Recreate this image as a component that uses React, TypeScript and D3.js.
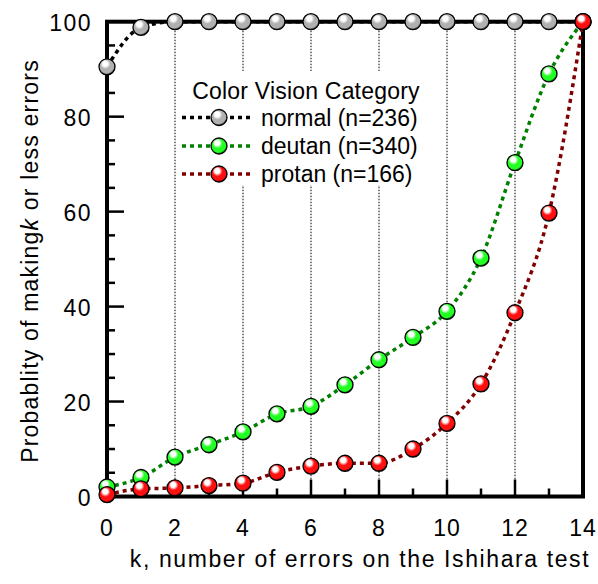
import React from "react";
import * as d3 from "d3";

const ks = [0, 1, 2, 3, 4, 5, 6, 7, 8, 9, 10, 11, 12, 13, 14];
const normalVals = [90.5, 98.8, 100, 100, 100, 100, 100, 100, 100, 100, 100, 100, 100, 100, 100];
const deutanVals = [2.0, 4.0, 8.3, 10.9, 13.6, 17.4, 19.0, 23.5, 28.8, 33.5, 39.0, 50.2, 70.3, 89.0, 100];
const protanVals = [0.4, 1.6, 1.8, 2.3, 2.8, 5.1, 6.4, 7.0, 7.0, 10.0, 15.4, 23.7, 38.7, 59.7, 100];
const xTicks = [0, 2, 4, 6, 8, 10, 12, 14];
const yTicks = [0, 20, 40, 60, 80, 100];
const gridKs = [2, 4, 6, 8, 10, 12];
const legendTitle = "Color Vision Category";

const seriesList = [
  { name: "normal (n=236)", values: normalVals, line: "#000000", light: "#ffffff", base: "#b0b0b0", dark: "#3a3a3a", id: "gN" },
  { name: "deutan (n=340)", values: deutanVals, line: "#008000", light: "#ffffff", base: "#22ff22", dark: "#006000", id: "gD" },
  { name: "protan (n=166)", values: protanVals, line: "#800000", light: "#ffffff", base: "#ff1010", dark: "#700000", id: "gP" },
];

export default function App() {
  const W = 598, H = 584;
  const x = d3.scaleLinear().domain([0, 14]).range([107, 583]);
  const y = d3.scaleLinear().domain([0, 100]).range([496.5, 21.7]);
  const line = d3.line<number>().x((_, i) => x(ks[i])).y((v) => y(v)).curve(d3.curveMonotoneX);
  const font = "'Liberation Sans', Arial, sans-serif";
  const r = 8;
  const xMinor = d3.range(1, 14, 2);
  const yMinor = d3.range(5, 100, 5).filter((v) => v % 20 !== 0);

  const lx0 = 182, lx1 = 252, lmx = 219, ltx = 261;
  const lys = [117.5, 146, 174];

  return (
    <svg width={W} height={H} style={{ position: "absolute", left: 0, top: 0 }} fontFamily={font}>
      <defs>
        {seriesList.map((s) => (
          <radialGradient key={s.id} id={s.id} cx="42%" cy="38%" r="62%" fx="38%" fy="28%">
            <stop offset="0%" stopColor={s.light} />
            <stop offset="25%" stopColor={s.light} />
            <stop offset="50%" stopColor={s.base} />
            <stop offset="85%" stopColor={s.base} />
            <stop offset="100%" stopColor={s.dark} />
          </radialGradient>
        ))}
      </defs>
      <rect x={0} y={0} width={W} height={H} fill="#fff" />
      {gridKs.map((k) => (
        <line key={k} x1={x(k)} x2={x(k)} y1={y(100)} y2={y(0)} stroke="#000" strokeWidth={1} strokeDasharray="1.5 1.5" />
      ))}
      <rect x={186} y={71} width={240} height={114} fill="#fff" />
      {xTicks.map((k) => (
        <line key={"xt" + k} x1={x(k)} x2={x(k)} y1={y(0)} y2={y(0) - 17} stroke="#000" strokeWidth={2.5} />
      ))}
      {xMinor.map((k) => (
        <line key={"xm" + k} x1={x(k)} x2={x(k)} y1={y(0)} y2={y(0) - 8} stroke="#000" strokeWidth={2.5} />
      ))}
      {yTicks.map((v) => (
        <line key={"yt" + v} x1={x(0)} x2={x(0) + 17} y1={y(v)} y2={y(v)} stroke="#000" strokeWidth={2.5} />
      ))}
      {yMinor.map((v) => (
        <line key={"ym" + v} x1={x(0)} x2={x(0) + 8} y1={y(v)} y2={y(v)} stroke="#000" strokeWidth={2.5} />
      ))}
      <rect x={x(0)} y={y(100)} width={x(14) - x(0)} height={y(0) - y(100)} fill="none" stroke="#000" strokeWidth={4} />
      {xTicks.map((k) => (
        <text key={"xl" + k} x={x(k)} y={536} textAnchor="middle" fontSize={23} letterSpacing={1}>{k}</text>
      ))}
      {yTicks.map((v) => (
        <text key={"yl" + v} x={92} y={y(v) + 9.5} textAnchor="end" fontSize={23} letterSpacing={1.5}>{v}</text>
      ))}
      <text x={360} y={567} textAnchor="middle" fontSize={23} letterSpacing={1.6}>k, number of errors on the Ishihara test</text>
      <text transform={`translate(38,${261}) rotate(-90)`} textAnchor="middle" fontSize={23} letterSpacing={1.2}>
        Probablity of making<tspan fontStyle="italic">k</tspan> or less errors
      </text>
      {seriesList.map((s) => (
        <path key={"l" + s.id} d={line(s.values) || ""} fill="none" stroke={s.line} strokeWidth={3.5} strokeDasharray="4 4" />
      ))}
      {seriesList.map((s) => (
        <g key={"m" + s.id}>
          {s.values.map((v, i) => (
            <circle key={i} cx={x(ks[i])} cy={y(v)} r={r} fill={`url(#${s.id})`} stroke="#000" strokeWidth={1.3} />
          ))}
        </g>
      ))}
      <text x={306} y={99} textAnchor="middle" fontSize={23} letterSpacing={0.2}>{legendTitle}</text>
      {seriesList.map((s, i) => (
        <g key={"lg" + s.id}>
          <line x1={lx0} x2={lx1} y1={lys[i]} y2={lys[i]} stroke={s.line} strokeWidth={3.5} strokeDasharray="4 4" />
          <circle cx={lmx} cy={lys[i]} r={r} fill={`url(#${s.id})`} stroke="#000" strokeWidth={1.3} />
          <text x={ltx} y={lys[i] + 8} fontSize={23}>{s.name}</text>
        </g>
      ))}
    </svg>
  );
}
